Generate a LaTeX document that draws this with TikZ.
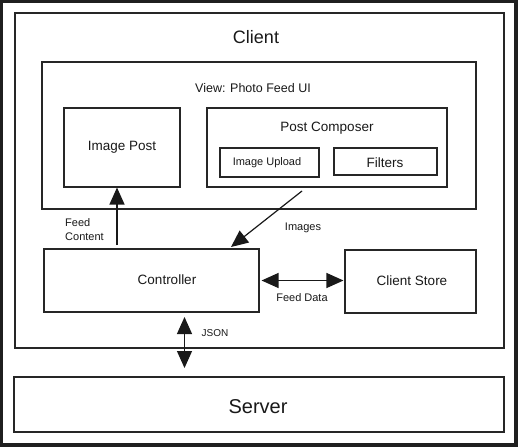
\documentclass[tikz,border=0pt]{standalone}
\usepackage{fontspec}
\setmainfont{Liberation Sans}
\usetikzlibrary{arrows.meta}
\begin{document}
\begin{tikzpicture}[x=1pt,y=-1pt,
  box/.style={draw=black!85, line width=1.1pt, inner sep=0pt},
  lbl/.style={inner sep=0pt, text=black!90},
  big/.style={lbl, font=\fontsize{13.5}{15}\selectfont},
  small/.style={lbl, font=\fontsize{11}{13}\selectfont},
  flow/.style={draw=black!90, line width=1.2pt, -{Triangle[length=17pt,width=15pt]}},
  flow2/.style={draw=black!90, line width=1.2pt, {Triangle[length=17pt,width=15pt]}-{Triangle[length=17pt,width=15pt]}}
]
% frame
\fill[black!88] (0,0) rectangle (518,447);
\fill[white] (3,3) rectangle (514,443);
\useasboundingbox (0,0) rectangle (518,447);

% containers
\node[box, minimum width=489pt, minimum height=335pt] (client) at (259.5,180.5) {};
\node[box, minimum width=434pt, minimum height=147pt] (view) at (259,135.5) {};
\node[box, minimum width=116pt, minimum height=79pt] (imgpost) at (122,147.5) {};
\node[box, minimum width=240pt, minimum height=79pt] (composer) at (327,147.5) {};
\node[box, minimum width=99pt, minimum height=29pt] (upload) at (269.5,162.5) {};
\node[box, minimum width=103pt, minimum height=27pt] (filters) at (385.5,161.5) {};
\node[box, minimum width=215pt, minimum height=63pt] (ctrl) at (151.5,280.5) {};
\node[box, minimum width=131pt, minimum height=63pt] (store) at (410.5,281.5) {};
\node[box, minimum width=490pt, minimum height=55pt] (server) at (259,404.5) {};

% titles
\node[lbl, font=\fontsize{18}{20}\selectfont] (clientT) at (256,37) {Client};
\node[lbl, font=\fontsize{12.5}{14}\selectfont] (viewT) at (253,88) {View: Photo Feed UI};
\node[big] (imgpostT) at (122,147) {Image Post};
\node[big] (composerT) at (327,128) {Post Composer};
\node[small] (uploadT) at (267,163) {Image Upload};
\node[big] (filtersT) at (385,163) {Filters};
\node[big] (ctrlT) at (167,280) {Controller};
\node[big] (storeT) at (412,281) {Client Store};
\node[lbl, font=\fontsize{20}{22}\selectfont] (serverT) at (258,407) {Server};

% connector labels
\node[small, align=left, anchor=west, font=\fontsize{11}{14}\selectfont] (fcT) at (65,230) {Feed\\Content};
\node[small] (imagesT) at (303,228) {Images};
\node[small] (fdT) at (302,298) {Feed Data};
\node[lbl, font=\fontsize{10}{12}\selectfont] (jsonT) at (215,333) {JSON};

% connectors
\coordinate (fcStart) at (117,245);
\draw[flow] (fcStart) -- (fcStart |- imgpost.south);
\coordinate (imgStart) at (302,191);
\coordinate (imgEnd) at (231,247);
\draw[flow] (imgStart) -- (imgEnd);
\draw[flow2, shorten <=2pt, shorten >=1pt] (ctrl.east) -- (ctrl.east -| store.west);
\coordinate (jsonTop) at (184.5,317);
\coordinate (jsonBot) at (184.5,368);
\draw[flow2] (jsonTop) -- (jsonBot);
\end{tikzpicture}
\end{document}
